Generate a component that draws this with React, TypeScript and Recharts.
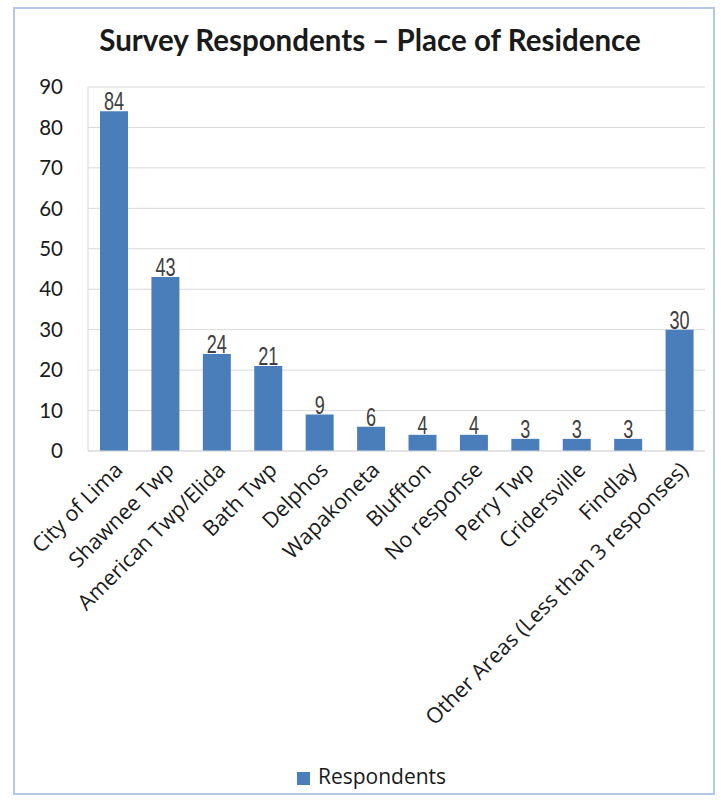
import React from "react";
import {
  BarChart,
  Bar,
  XAxis,
  YAxis,
  CartesianGrid,
  Legend,
  LabelList,
} from "recharts";

const places = [
  "City of Lima",
  "Shawnee Twp",
  "American Twp/Elida",
  "Bath Twp",
  "Delphos",
  "Wapakoneta",
  "Bluffton",
  "No response",
  "Perry Twp",
  "Cridersville",
  "Findlay",
  "Other Areas (Less than 3 responses)",
];

const respondents = [84, 43, 24, 21, 9, 6, 4, 4, 3, 3, 3, 30];

const yTicks = [0, 10, 20, 30, 40, 50, 60, 70, 80, 90];

const data = places.map((place, i) => ({ place, Respondents: respondents[i] }));

const barColor = "#4a7ebb";
const gridColor = "#d9d9d9";
const font = "Lato, 'Open Sans', sans-serif";
const axisFont = "'Open Sans', Lato, sans-serif";

const XTick = (props: any) => {
  const { x, y, payload } = props;
  return (
    <g transform={`translate(${x + 6},${y + 8})`}>
      <text
        transform="rotate(-45)"
        textAnchor="end"
        fontFamily={axisFont}
        fontSize={21.5}
        fill="#1a1a1a"
        dy={6}
      >
        {payload.value}
      </text>
    </g>
  );
};

// narrow, tall value labels like the original
const ValueLabel = (props: any) => {
  const { x, y, width, value } = props;
  const cx = x + width / 2;
  return (
    <text
      transform={`translate(${cx},${y - 1}) scale(0.82,1.14)`}
      textAnchor="middle"
      fontFamily="'Liberation Sans', Arial, sans-serif"
      fontSize={22}
      fill="#404040"
    >
      {value}
    </text>
  );
};

export default function App() {
  return (
    <div
      style={{
        position: "absolute",
        left: 0,
        top: 0,
        width: 721,
        height: 802,
        background: "#fff",
      }}
    >
      <div
        style={{
          position: "absolute",
          left: 13,
          top: 7,
          width: 702,
          height: 788,
          border: "2px solid #b4c7e7",
          boxSizing: "border-box",
        }}
      />
      <div
        style={{
          position: "absolute",
          left: 0,
          top: 22,
          width: 740,
          textAlign: "center",
          fontFamily: font,
          fontWeight: 700,
          fontSize: 29.5,
          color: "#1a1a1a",
        }}
      >
        Survey Respondents – Place of Residence
      </div>
      <BarChart
        width={721}
        height={802}
        data={data}
        margin={{ top: 87, right: 16, bottom: 0, left: 0 }}
      >
        <CartesianGrid vertical={false} stroke={gridColor} />
        <XAxis
          dataKey="place"
          interval={0}
          height={311}
          tick={<XTick />}
          tickLine={false}
          axisLine={{ stroke: gridColor }}
        />
        <YAxis
          width={88}
          domain={[0, 90]}
          ticks={yTicks}
          tickSize={0}
          tickMargin={25}
          tickLine={false}
          axisLine={{ stroke: gridColor }}
          tick={{ fontFamily: font, fontSize: 20.5, fill: "#1a1a1a" }}
        />
        <YAxis
          yAxisId="right"
          orientation="right"
          width={0}
          domain={[0, 90]}
          tick={false}
          tickLine={false}
          axisLine={{ stroke: gridColor }}
        />
        <Legend
          verticalAlign="bottom"
          height={40}
          iconType="square"
          iconSize={13}
          wrapperStyle={{
            fontFamily: axisFont,
            fontSize: 21,
            color: "#1a1a1a",
            paddingLeft: 24,
          }}
          formatter={(v: string) => (
            <span style={{ color: "#1a1a1a", marginLeft: 4 }}>{v}</span>
          )}
        />
        <Bar
          dataKey="Respondents"
          fill={barColor}
          barSize={28}
          isAnimationActive={false}
        >
          <LabelList dataKey="Respondents" content={<ValueLabel />} />
        </Bar>
      </BarChart>
    </div>
  );
}
